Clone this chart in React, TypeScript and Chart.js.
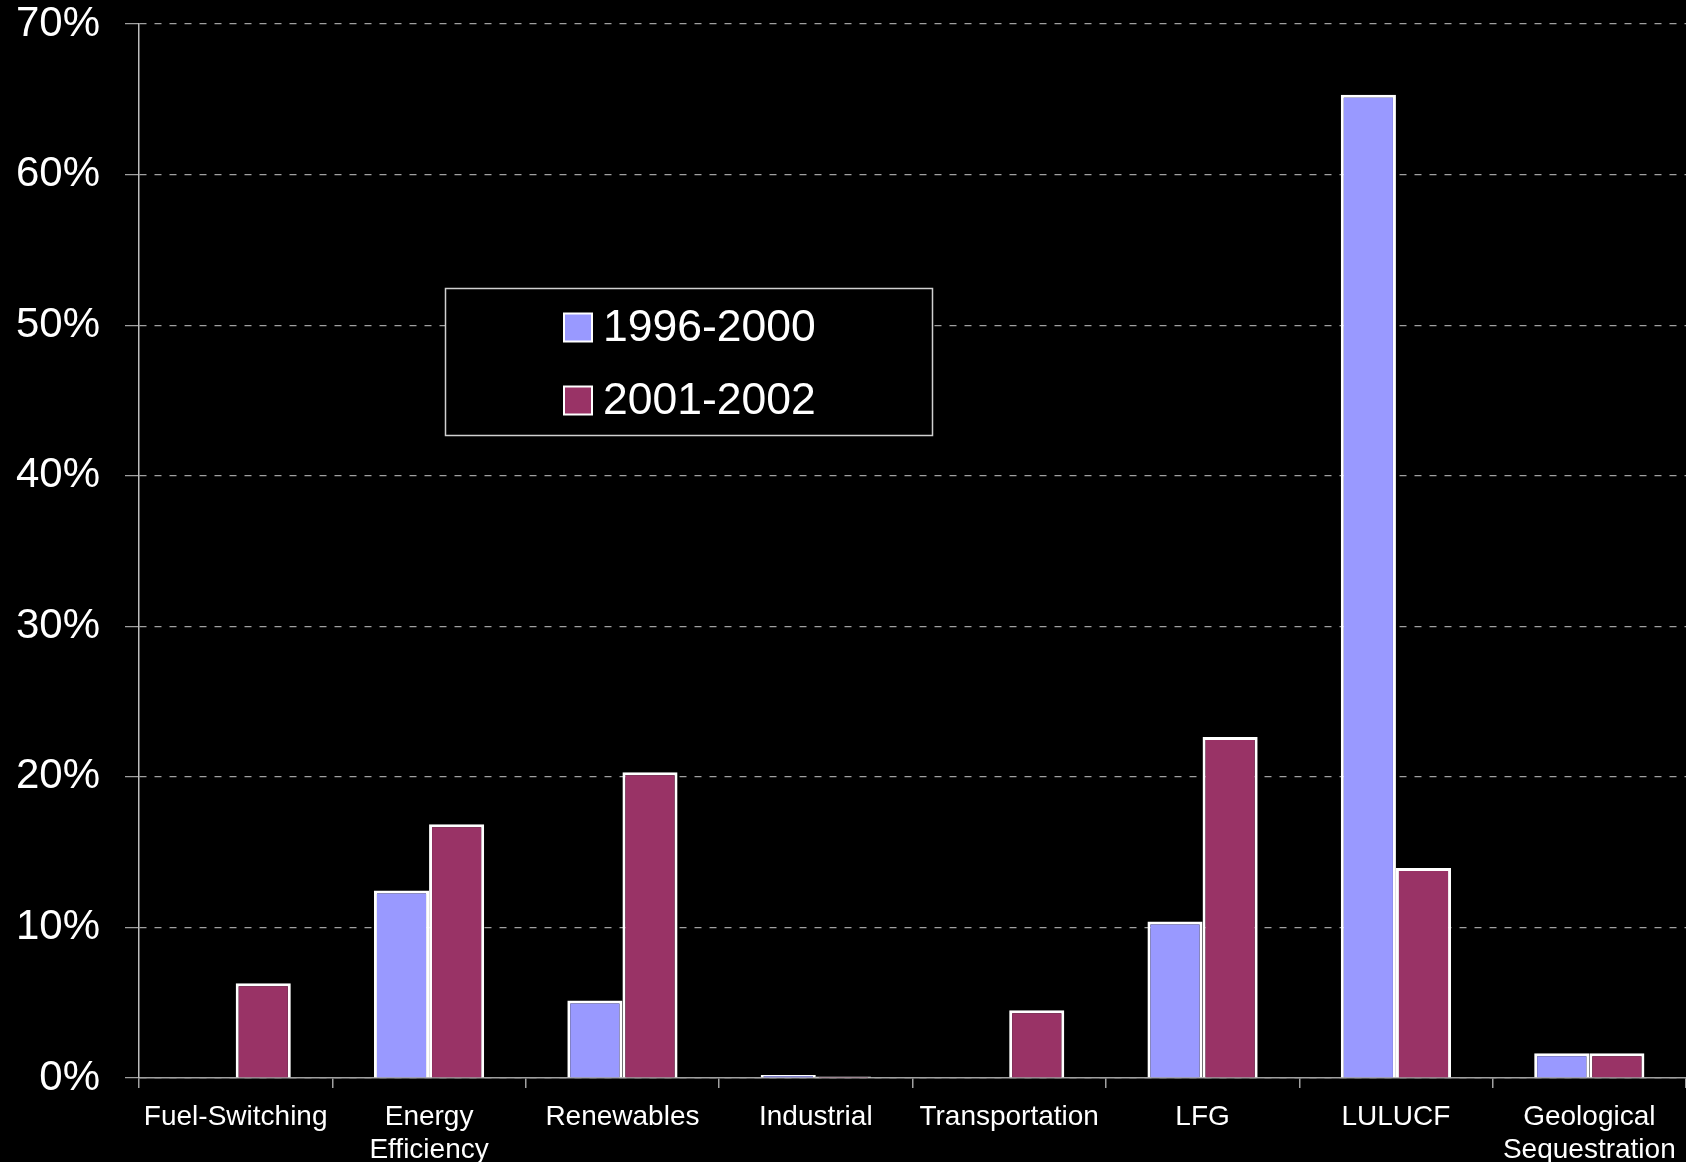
import React, { useEffect, useRef } from "react";
import { Chart, registerables } from "chart.js";

Chart.register(...registerables);

// Share of emission reductions by project type, per reporting period (%)
const categories: (string | string[])[] = [
  "Fuel-Switching",
  ["Energy", "Efficiency"],
  "Renewables",
  "Industrial",
  "Transportation",
  "LFG",
  "LULUCF",
  ["Geological", "Sequestration"],
];
const period1Label = "1996-2000";
const period2Label = "2001-2002";
const period1Values = [0, 12.45, 5.15, 0.2, 0, 10.4, 65.3, 1.65];
const period2Values = [6.3, 16.85, 20.3, 0.1, 4.5, 22.65, 13.95, 1.65];
const yTicks = [0, 10, 20, 30, 40, 50, 60, 70];

const FONT = "'Liberation Sans', Arial, Helvetica, sans-serif";
const BLUE = "#9999FF";
const PLUM = "#993366";

// Boxed legend drawn inside the plot area
const boxedLegend = {
  id: "boxedLegend",
  afterDraw(chart: any) {
    const { ctx } = chart;
    const box = { x: 445, y: 288, w: 487, h: 147 };
    ctx.save();
    ctx.fillStyle = "#000";
    ctx.fillRect(box.x, box.y, box.w, box.h);
    ctx.strokeStyle = "#d0d0d0";
    ctx.lineWidth = 1.5;
    ctx.strokeRect(box.x + 0.5, box.y + 0.5, box.w, box.h);
    const rows = [327.5, 400.5];
    chart.data.datasets.forEach((ds: any, i: number) => {
      const cy = rows[i];
      ctx.fillStyle = ds.backgroundColor;
      ctx.fillRect(564, cy - 14, 28, 28);
      ctx.strokeStyle = "#fff";
      ctx.lineWidth = 2;
      ctx.strokeRect(564, cy - 14, 28, 28);
      ctx.fillStyle = "#fff";
      ctx.font = `44.5px ${FONT}`;
      ctx.textBaseline = "middle";
      ctx.textAlign = "left";
      ctx.fillText(ds.label, 603, cy + 1);
    });
    ctx.restore();
  },
};

export default function App() {
  const canvasRef = useRef<HTMLCanvasElement | null>(null);

  useEffect(() => {
    if (!canvasRef.current) return;
    const chart = new Chart(canvasRef.current, {
      type: "bar",
      data: {
        labels: categories,
        datasets: [
          {
            label: period1Label,
            data: period1Values,
            backgroundColor: BLUE,
            borderColor: "#fff",
            borderWidth: 3,
          },
          {
            label: period2Label,
            data: period2Values,
            backgroundColor: PLUM,
            borderColor: "#fff",
            borderWidth: 3,
          },
        ],
      },
      options: {
        animation: false,
        responsive: false,
        devicePixelRatio: 1,
        layout: { padding: { top: 24, right: 0, left: 0, bottom: 0 } },
        datasets: {
          bar: { categoryPercentage: 0.57, barPercentage: 1 },
        },
        plugins: {
          legend: { display: false },
          tooltip: { enabled: false },
        },
        scales: {
          x: {
            grid: {
              offset: true,
              drawOnChartArea: false,
              drawTicks: true,
              tickLength: 10,
              color: "#a0a0a0",
              lineWidth: 1.5,
            },
            border: { color: "#a0a0a0", width: 1.5 },
            ticks: {
              color: "#fff",
              font: { family: FONT, size: 28, lineHeight: 1.2 },
              padding: 12,
              maxRotation: 0,
              autoSkip: false,
            },
            afterFit: (s: any) => {
              s.height = 84;
              s.paddingLeft = 0;
              s.paddingRight = 0;
            },
          },
          y: {
            min: 0,
            max: 70,
            afterBuildTicks: (s: any) => {
              s.ticks = yTicks.map((v) => ({ value: v }));
            },
            ticks: {
              color: "#fff",
              font: { family: FONT, size: 42, lineHeight: 1 },
              padding: 25,
              callback: (v: any) => `${v}%`,
            },
            grid: {
              color: "#a0a0a0",
              lineWidth: 1.2,
              tickLength: 14,
              borderDash: [7, 8],
              tickBorderDash: [1, 0],
              tickColor: "#a0a0a0",
            } as any,
            border: { color: "#bdbdbd", width: 1.5, dash: [7, 8] } as any,
            afterFit: (s: any) => {
              s.width = 139;
              s.paddingTop = 0;
              s.paddingBottom = 0;
            },
          },
        },
      },
      plugins: [boxedLegend],
    });
    return () => chart.destroy();
  }, []);

  return (
    <div
      style={{
        position: "fixed",
        left: 0,
        top: 0,
        width: 1686,
        height: 1162,
        background: "#000",
      }}
    >
      <canvas ref={canvasRef} width={1686} height={1162} />
    </div>
  );
}
